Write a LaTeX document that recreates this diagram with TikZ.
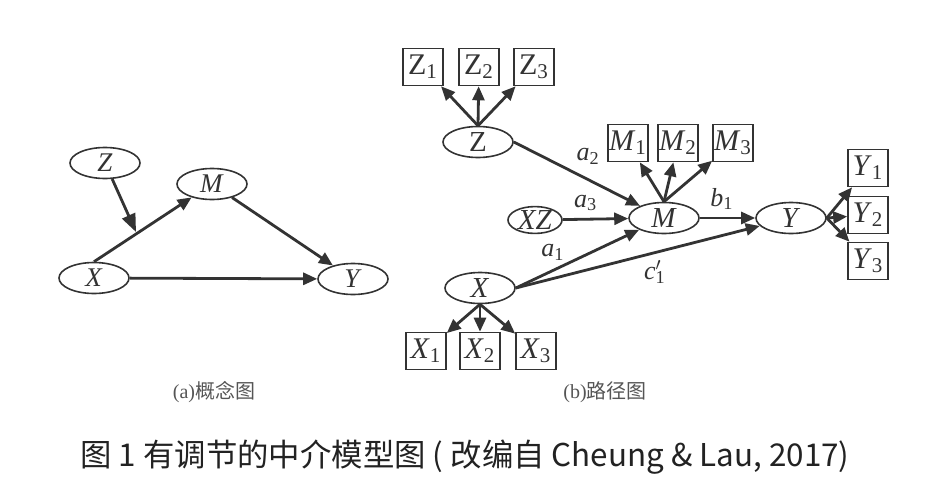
\documentclass[tikz,border=0pt]{standalone}
\usepackage{fontspec}
\setmainfont{Liberation Serif}
\newfontfamily\cjk{Noto Sans CJK SC}
\usetikzlibrary{arrows.meta,shapes.geometric}
\definecolor{ink}{HTML}{333333}
\definecolor{capgray}{HTML}{555555}
\definecolor{titleink}{HTML}{222222}
\begin{document}
\begin{tikzpicture}[x=0.5pt,y=-0.5pt,
  latent/.style={draw=ink,ellipse,line width=0.8pt,inner sep=0pt,minimum width=35pt,minimum height=15.5pt,text=ink,font=\fontsize{14.5}{14.5}\selectfont},
  indic/.style={draw=ink,rectangle,line width=0.8pt,inner sep=0pt,minimum width=20pt,minimum height=18.5pt,text=ink,font=\fontsize{15}{15}\selectfont},
  link/.style={draw=ink,line width=1.4pt,-{Triangle[length=7pt,width=6pt]}},
  lab/.style={text=ink,font=\fontsize{13}{13}\selectfont}]
\useasboundingbox (0,0) rectangle (928,499);
% (a) concept diagram
\node[latent,font=\fontsize{13.5}{13.5}\selectfont] (zl) at (105,163) {\textit{Z}};
\node[latent,font=\fontsize{13.5}{13.5}\selectfont] (ml) at (212,184) {\textit{M}};
\node[latent,font=\fontsize{13.5}{13.5}\selectfont] (xl) at (94,278) {\textit{X}};
\node[latent,font=\fontsize{13.5}{13.5}\selectfont] (yl) at (353,279) {\textit{Y}};
\coordinate (zhit) at (136,232);
\draw[link,-{Triangle[length=9pt,width=7pt]}] (zl) -- (zhit);
\draw[link] (xl.north) -- (ml);
\draw[link] (ml) -- (yl);
\draw[link] (xl) -- (yl);
% (b) path diagram
\node[latent] (zr) at (478,142) {Z};
\node[indic] (z1) at (423,67) {Z\textsubscript{1}};
\node[indic] (z2) at (479,67) {Z\textsubscript{2}};
\node[indic] (z3) at (534,67) {Z\textsubscript{3}};
\node[latent] (mr) at (664,218) {\textit{M}};
\node[indic] (m1) at (628,143) {\textit{M}\textsubscript{1}};
\node[indic] (m2) at (678,143) {\textit{M}\textsubscript{2}};
\node[indic] (m3) at (733,143) {\textit{M}\textsubscript{3}};
\node[latent,minimum width=27pt,minimum height=13pt] (xz) at (535,220) {\textit{XZ}};
\node[latent] (yr) at (791,218) {\textit{Y}};
\node[indic] (y1) at (868,168) {\textit{Y}\textsubscript{1}};
\node[indic] (y2) at (868,215) {\textit{Y}\textsubscript{2}};
\node[indic] (y3) at (868,261) {\textit{Y}\textsubscript{3}};
\node[latent] (xr) at (480,288) {\textit{X}};
\node[indic] (x1) at (426,351) {\textit{X}\textsubscript{1}};
\node[indic] (x2) at (480,351) {\textit{X}\textsubscript{2}};
\node[indic] (x3) at (536,351) {\textit{X}\textsubscript{3}};
\foreach \i in {1,2,3} {
  \draw[link] (zr.north) -- (z\i);
  \draw[link] (mr.north) -- (m\i);
  \draw[link] (yr.east) -- (y\i);
  \draw[link] (xr.south) -- (x\i);
}
\draw[link] (zr.east) -- node[lab,pos=0.45,above right=-1pt] {\textit{a}\textsubscript{2}} (mr);
\draw[link] (xz) -- node[lab,pos=0.35,above] {\textit{a}\textsubscript{3}} (mr);
\draw[link] (mr) -- node[lab,pos=0.4,above] {\textit{b}\textsubscript{1}} (yr);
\draw[link] (xr.east) -- node[lab,pos=0.3,above=1pt] {\textit{a}\textsubscript{1}} (mr);
\draw[link] (xr.east) -- node[lab,pos=0.57,below] {\textit{c}\rlap{\textsuperscript{$\prime$}}\textsubscript{1}} (yr);
% captions
\node[text=capgray,font=\fontsize{10}{10}\selectfont] (capa) at (214,392) {(a)\cjk 概念图};
\node[text=capgray,font=\fontsize{10}{10}\selectfont] (capb) at (605,392) {(b)\cjk 路径图};
\node[text=titleink,font=\cjk\fontsize{15.7}{15.7}\selectfont] (title) at (465,457) {图 1 有调节的中介模型图 ( 改编自 Cheung \& Lau, 2017)};
\end{tikzpicture}
\end{document}
